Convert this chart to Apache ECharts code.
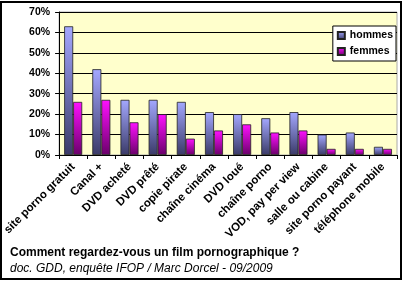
<!DOCTYPE html>
<html><head><meta charset="utf-8">
<script src="https://cdn.jsdelivr.net/npm/echarts@6/dist/echarts.min.js"></script>
<style>html,body{margin:0;padding:0;background:#fff}#c{width:402px;height:281px}</style>
</head><body><div id="c"></div>
<script>
const categories = ["site porno gratuit","Canal +","DVD acheté","DVD prêté","copie pirate","chaîne cinéma","DVD loué","chaîne porno","VOD, pay per view","salle ou cabine","site porno payant","téléphone mobile"];
const hommes = [63,42,27,27,26,21,20,18,21,10,11,4];
const femmes = [26,27,16,20,8,12,15,11,12,3,3,3];
const seriesNames = ["hommes","femmes"];
const titleText = "Comment regardez-vous un film pornographique ?";
const sourceText = "doc. GDD, enquête IFOP / Marc Dorcel - 09/2009";

const font = 'Arial, "Liberation Sans", sans-serif';
const chart = echarts.init(document.getElementById('c'), null, {renderer:'canvas'});
const grad = (a,b)=>new echarts.graphic.LinearGradient(0,0,0,1,[{offset:0,color:a},{offset:1,color:b}]);
chart.setOption({
  animation:false,
  backgroundColor:'#fff',
  title:[
    {text:titleText,left:5,top:242,textStyle:{fontFamily:font,fontSize:12,fontWeight:'bold',color:'#000'}},
    {text:sourceText,left:5,top:258,textStyle:{fontFamily:font,fontSize:12,fontWeight:'normal',fontStyle:'italic',color:'#000'}}
  ],
  legend:{
    orient:'vertical',right:6,top:26,itemWidth:7,itemHeight:7,itemGap:5,
    padding:[4,3,4,4],borderColor:'#000',borderWidth:1,backgroundColor:'#fff',
    icon:'rect',
    textStyle:{fontFamily:font,fontSize:10.5,fontWeight:'bold',color:'#000'},
    data:seriesNames
  },
  grid:{left:58,right:5,top:12,bottom:126,show:true,backgroundColor:'#ffffcc',borderColor:'#aaa',borderWidth:1},
  xAxis:{
    type:'category',data:categories,
    axisLine:{lineStyle:{color:'#000',width:1}},
    axisTick:{show:true,length:4,lineStyle:{color:'#000'}},
    axisLabel:{rotate:45,interval:0,margin:10,fontFamily:font,fontSize:11.5,fontWeight:'bold',color:'#000'}
  },
  yAxis:{
    type:'value',min:0,max:70,interval:10,
    axisLine:{show:true,lineStyle:{color:'#000'}},
    axisTick:{show:true,length:4,lineStyle:{color:'#000'}},
    splitLine:{lineStyle:{color:'#000',width:1}},
    axisLabel:{formatter:'{value}%',margin:9,fontFamily:font,fontSize:10.5,fontWeight:'bold',color:'#000'}
  },
  series:[
    {name:seriesNames[0],type:'bar',data:hommes,barGap:'0%',barCategoryGap:'36%',
     itemStyle:{color:grad('#a4a8ff','#3a3a68'),borderColor:'#222',borderWidth:0.8}},
    {name:seriesNames[1],type:'bar',data:femmes,
     itemStyle:{color:grad('#ff10ff','#6a006a'),borderColor:'#222',borderWidth:0.8}}
  ],
  graphic:[{type:'rect',shape:{x:1,y:2,width:400,height:277},style:{fill:null,stroke:'#000',lineWidth:2},z:100}]
});
</script></body></html>
